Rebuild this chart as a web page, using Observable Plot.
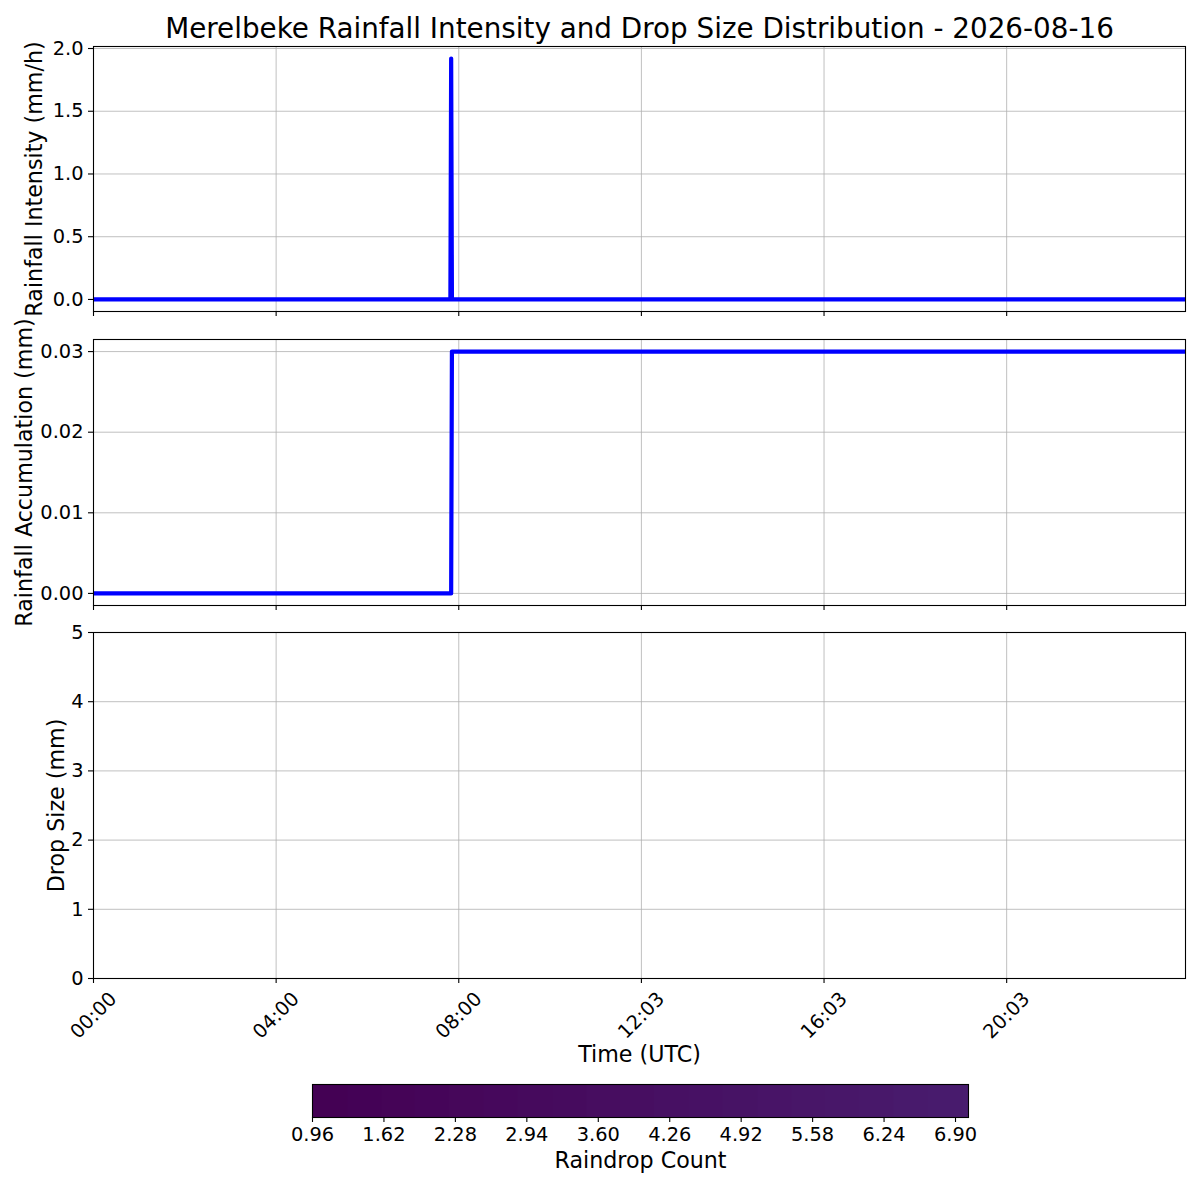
<!DOCTYPE html>
<html><head><meta charset="utf-8">
<script src="https://cdn.jsdelivr.net/npm/d3@7"></script>
<script src="https://cdn.jsdelivr.net/npm/@observablehq/plot@0.6"></script>
<style>
body{margin:0;background:#fff;}
#wrap{position:relative;width:1200px;height:1200px;background:#fff;font-family:"DejaVu Sans",sans-serif;}
#wrap svg{position:absolute;left:0;overflow:visible;}
</style></head><body><div id="wrap"></div>
<script>
const title = "Merelbeke Rainfall Intensity and Drop Size Distribution - 2026-08-16";
// time in minutes since 00:00 UTC
const intensityTime = [0, 469, 470, 471, 1435];
const intensityValue = [0, 0, 1.92, 0, 0];
const accumTime = [0, 470, 471, 1435];
const accumValue = [0, 0, 0.03, 0.03];
const timeDomain = [0, 1435];
const timeTicks = [0, 240, 480, 720, 960, 1200];
const timeTickLabels = ["00:00", "04:00", "08:00", "12:03", "16:03", "20:03"];
const intensityTicks = [0, 0.5, 1.0, 1.5, 2.0];
const accumTicks = [0, 0.01, 0.02, 0.03];
const dropSizeTicks = [0, 1, 2, 3, 4, 5];
const countTicks = [0.96, 1.62, 2.28, 2.94, 3.60, 4.26, 4.92, 5.58, 6.24, 6.90];
const countDomain = [0.96, 7.02];

const intensityData = intensityTime.map((t, i) => ({t, v: intensityValue[i]}));
const accumData = accumTime.map((t, i) => ({t, v: accumValue[i]}));

const wrap = document.getElementById("wrap");
const GRID = {stroke: "#b0b0b0", strokeOpacity: 1, strokeWidth: 0.8};
const TICK_FS = 19.4, LABEL_FS = 22.2;
const STYLE = {fontFamily: "DejaVu Sans, sans-serif", fontSize: TICK_FS + "px", color: "black", background: "transparent", overflow: "visible"};
const L = 93, R = 1185;

function panel({top, height, frameTop, frameBottom, yDomain, yTicks, yFmt, ylabel, ylabelX, marks, bottomMarks}) {
  const svg = Plot.plot({
    width: 1200, height,
    marginLeft: L, marginRight: 1200 - R,
    marginTop: frameTop - top, marginBottom: top + height - frameBottom,
    style: STYLE,
    x: {domain: timeDomain},
    y: {domain: yDomain},
    marks: [
      Plot.gridX(timeTicks, GRID),
      Plot.gridY(yTicks, GRID),
      ...marks,
      Plot.frame({stroke: "black", strokeWidth: 1.1}),
      Plot.axisY(yTicks, {tickSize: 5, tickPadding: 5, tickFormat: yFmt, label: null, fontSize: TICK_FS, strokeWidth: 1.1}),
      Plot.axisX(timeTicks, {tickSize: 5, tickFormat: () => "", label: null, strokeWidth: 1.1}),
      Plot.text([ylabel], {text: d => d, frameAnchor: "left", dx: ylabelX - L, rotate: -90, textAnchor: "middle", lineAnchor: "bottom", fontSize: LABEL_FS}),
      ...(bottomMarks || [])
    ]
  });
  svg.style.top = top + "px";
  wrap.appendChild(svg);
}

const lineOpts = {x: "t", y: "v", stroke: "#0000ff", strokeWidth: 4.2, clip: true, strokeLinejoin: "round"};

panel({
  top: 0, height: 330, frameTop: 46, frameBottom: 311,
  yDomain: [-0.096, 2.016], yTicks: intensityTicks, yFmt: d => d.toFixed(1),
  ylabel: "Rainfall Intensity (mm/h)", ylabelX: 41,
  marks: [Plot.line(intensityData, lineOpts)],
  bottomMarks: [
    Plot.text([title], {text: d => d, frameAnchor: "top", dy: 37 - 46, textAnchor: "middle", lineAnchor: "bottom", fontSize: 27.8})
  ]
});

panel({
  top: 330, height: 300, frameTop: 339, frameBottom: 605,
  yDomain: [-0.0015, 0.0315], yTicks: accumTicks, yFmt: d => d.toFixed(2),
  ylabel: "Rainfall Accumulation (mm)", ylabelX: 31,
  marks: [Plot.line(accumData, lineOpts)]
});

panel({
  top: 630, height: 440, frameTop: 632, frameBottom: 978,
  yDomain: [0, 5], yTicks: dropSizeTicks, yFmt: d => String(d),
  ylabel: "Drop Size (mm)", ylabelX: 63,
  marks: [],
  bottomMarks: [
    Plot.text(timeTicks, {x: d => d, text: (d, i) => timeTickLabels[i], frameAnchor: "bottom", dy: 37, rotate: -45, textAnchor: "middle", lineAnchor: "middle", fontSize: TICK_FS}),
    Plot.text(["Time (UTC)"], {text: d => d, frameAnchor: "bottom", dy: 1061 - 978, textAnchor: "middle", lineAnchor: "bottom", fontSize: LABEL_FS})
  ]
});

// colorbar
const cbTop = 1070, cbH = 130, cbFrameTop = 1084, cbFrameBottom = 1117, cbL = 312, cbR = 968;
const cb = Plot.plot({
  width: 1200, height: cbH,
  marginLeft: cbL, marginRight: 1200 - cbR,
  marginTop: cbFrameTop - cbTop, marginBottom: cbTop + cbH - cbFrameBottom,
  style: STYLE,
  x: {domain: countDomain},
  y: {domain: [0, 1], axis: null},
  color: {type: "linear", domain: countDomain, interpolate: t => d3.interpolateViridis(t * 0.075)},
  marks: [
    Plot.raster({x1: countDomain[0], x2: countDomain[1], y1: 0, y2: 1, fill: (x, y) => x, width: 400, height: 1}),
    Plot.frame({stroke: "black", strokeWidth: 1.1}),
    Plot.axisX(countTicks, {tickSize: 5, tickPadding: 5, tickFormat: d => d.toFixed(2), label: null, fontSize: TICK_FS, strokeWidth: 1.1}),
    Plot.text(["Raindrop Count"], {text: d => d, frameAnchor: "bottom", dy: 1167 - 1117, textAnchor: "middle", lineAnchor: "bottom", fontSize: LABEL_FS})
  ]
});
cb.style.top = cbTop + "px";
wrap.appendChild(cb);
</script></body></html>
